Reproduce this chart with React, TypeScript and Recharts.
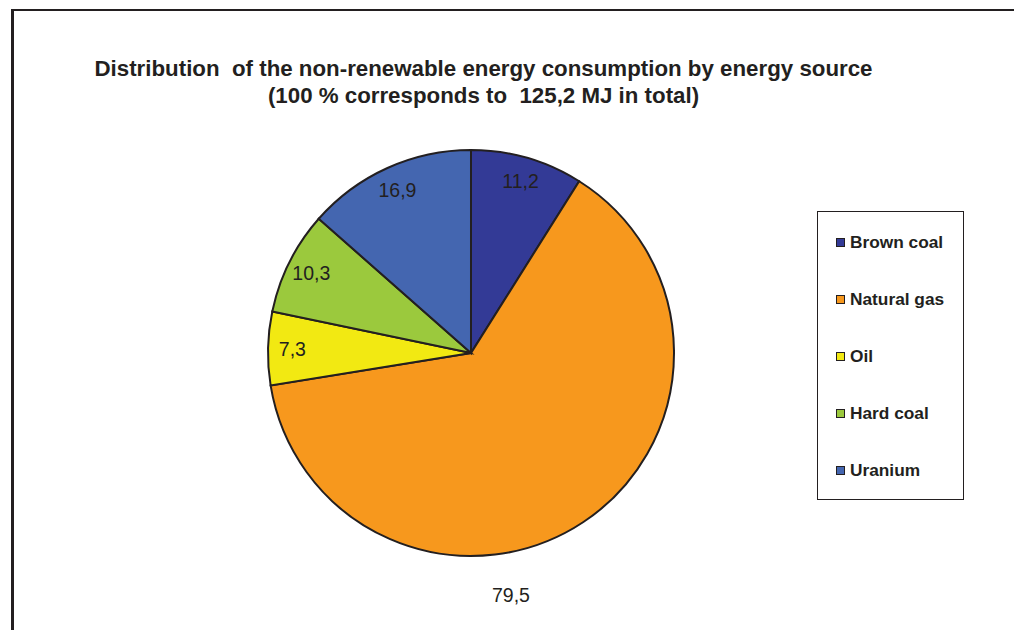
import React from "react";
import { PieChart, Pie, Cell, Legend } from "recharts";

const sources = ["Brown coal", "Natural gas", "Oil", "Hard coal", "Uranium"];
const values = [11.2, 79.5, 7.3, 10.3, 16.9];
const colors = ["#333a96", "#f7981d", "#f2e912", "#9bc93d", "#4466b0"];

const data = sources.map((name, i) => ({ name, value: values[i] }));
const FONT = '"Liberation Sans", Arial, sans-serif';
const RAD = Math.PI / 180;

const fmt = (v: number) => v.toFixed(1).replace(".", ",");

function SliceLabel(props: any) {
  const { cx, cy, midAngle, outerRadius, value, index } = props;
  const biggest = value === Math.max(...values);
  let x, y;
  if (biggest) {
    // excel drops the big slice's label below the pie
    x = cx + 40;
    y = cy + outerRadius + 39;
  } else {
    const r = outerRadius * 0.88;
    x = cx + r * Math.cos(-midAngle * RAD);
    y = cy + r * Math.sin(-midAngle * RAD);
  }
  return (
    <text key={index} x={x} y={y} fill="#231f20" fontSize={19.5} fontFamily={FONT}
      textAnchor="middle" dominantBaseline="central">
      {fmt(value)}
    </text>
  );
}

// legend drawn from the arrays so it keeps the series order
function LegendBox() {
  return (
    <div style={{ width: 145, height: 285, border: "1.5px solid #231f20", boxSizing: "content-box", paddingTop: 2 }}>
      {sources.map((s, i) => (
        <div key={s} style={{ height: 57, display: "flex", alignItems: "center", paddingLeft: 18,
          fontFamily: FONT, fontWeight: "bold", fontSize: 17.3, color: "#231f20" }}>
          <span style={{ width: 7, height: 7, background: colors[i], border: "1px solid #231f20", marginRight: 5 }} />
          {s}
        </div>
      ))}
    </div>
  );
}

export default function App() {
  return (
    <div style={{ position: "relative", width: 1014, height: 622, background: "#fff", overflow: "hidden" }}>
      <div style={{ position: "absolute", left: 3, top: 1, width: 1100, height: 700,
        borderLeft: "3px solid #231f20", borderTop: "2px solid #231f20" }} />
      <div style={{ position: "absolute", left: 0, width: 951, top: 47, textAlign: "center",
        fontFamily: FONT, fontWeight: "bold", fontSize: 22.3, lineHeight: "27px", color: "#231f20", whiteSpace: "pre" }}>
        {"Distribution  of the non-renewable energy consumption by energy source\n(100 % corresponds to  125,2 MJ in total)"}
      </div>
      <div style={{ position: "absolute", left: 0, top: 0 }}>
        <PieChart width={1014} height={622} margin={{ top: 0, right: 0, bottom: 0, left: 0 }}>
          <Pie data={data} dataKey="value" nameKey="name" cx={463} cy={345} outerRadius={203}
            startAngle={90} endAngle={-270} stroke="#231f20" strokeWidth={2}
            label={SliceLabel} labelLine={false} isAnimationActive={false}>
            {data.map((d, i) => <Cell key={d.name} fill={colors[i]} />)}
          </Pie>
          <Legend layout="vertical" content={<LegendBox />}
            wrapperStyle={{ left: 809, top: 203, width: 150 }} />
        </PieChart>
      </div>
    </div>
  );
}
